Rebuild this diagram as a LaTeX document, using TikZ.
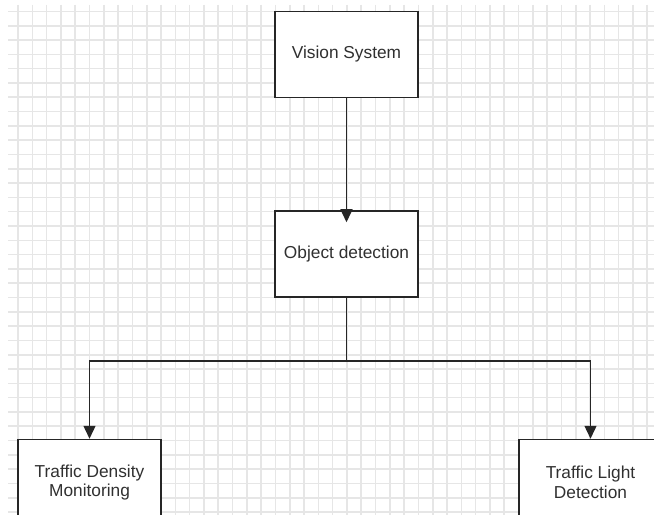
\documentclass[tikz,border=0pt]{standalone}
\usepackage{fontspec}
\setmainfont{Liberation Sans}
\usetikzlibrary{arrows.meta}
\definecolor{gridline}{HTML}{E6E6E6}
\definecolor{ink}{HTML}{262626}
\definecolor{textink}{HTML}{303030}
\tikzset{
  block/.style={draw=ink, line width=1.5bp, fill=white, rectangle,
    minimum width=143bp, minimum height=86bp, inner sep=0pt,
    align=center, text=textink, font=\fontsize{17.3bp}{19.5bp}\selectfont},
  link/.style={draw=ink, line width=1.4bp},
  flow/.style={link, -{Triangle[width=12bp,length=13bp]}},
  gridrule/.style={draw=gridline, line width=1.6bp}
}
\begin{document}
\begin{tikzpicture}[x=1bp, y=-1bp]
  \clip (0,0) rectangle (654,515);
  \fill[white] (0,0) rectangle (654,515);
  % background grid
  \foreach \k in {0,...,44} \draw[gridrule] ({18+14.3*\k},5) -- ({18+14.3*\k},515);
  \foreach \k in {0,...,35} \draw[gridrule] (8,{11.5+14.3*\k}) -- (654,{11.5+14.3*\k});
  % blocks
  \node[block] (vs)  at (346.5,54.5) {Vision System};
  \node[block] (od)  at (346.5,254)  {Object detection};
  \node[block] (tdm) at (89.5,482.5) {Traffic Density\\Monitoring};
  \node[block] (tld) at (590.5,482.5) {Traffic Light\\Detection};
  % connectors
  \coordinate (split) at (346.5,361);
  \draw[flow] (vs.south) -- ([yshift=-12bp]od.north);
  \draw[link] (od.south) -- (split);
  \draw[flow] (split) -| (tdm.north);
  \draw[flow] (split) -| (tld.north);
\end{tikzpicture}
\end{document}
